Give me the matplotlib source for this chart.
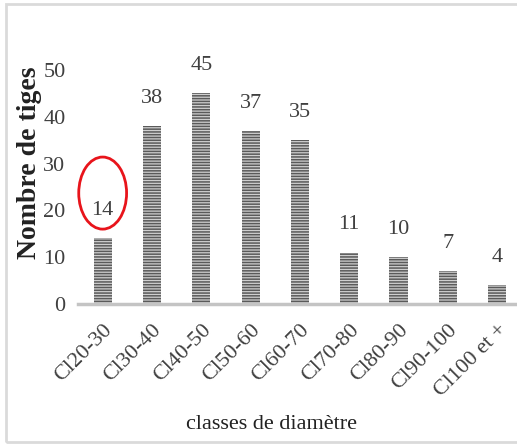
import matplotlib.pyplot as plt
from matplotlib.patches import Ellipse, Rectangle

classes = ['Cl20-30', 'Cl30-40', 'Cl40-50', 'Cl50-60', 'Cl60-70',
           'Cl70-80', 'Cl80-90', 'Cl90-100', 'Cl100 et +']
tiges = [14, 38, 45, 37, 35, 11, 10, 7, 4]
yticks = [0, 10, 20, 30, 40, 50]

plt.rcParams['font.family'] = ['Liberation Serif', 'DejaVu Serif']
plt.rcParams['hatch.linewidth'] = 1.1

fig = plt.figure(figsize=(5.17, 4.44), dpi=100)
ax = fig.add_axes([78 / 517, 1 - 304 / 444, (517 - 78) / 517, 55 * 4.68 / 444])

x = range(len(classes))
ax.bar(x, tiges, width=0.37, color='#cfcfcf', edgecolor='#5a5a5a',
       hatch='------', linewidth=0)

for i, v in enumerate(tiges):
    ax.annotate(str(v), (i, v), xytext=(0, 13), textcoords='offset points',
                ha='center', va='bottom', fontsize=16, color='#404040')

ax.set_xlim(-0.5, 8.4)
ax.set_ylim(0, 55)
ax.set_yticks(yticks)
ax.set_xticks(list(x))
ax.set_xticklabels(classes, rotation=45, ha='right', rotation_mode='anchor')
ax.tick_params(length=0, labelsize=16, labelcolor='#404040')
ax.tick_params(axis='x', pad=12)
ax.tick_params(axis='y', pad=9)

for s in ['top', 'right', 'left']:
    ax.spines[s].set_visible(False)
ax.spines['bottom'].set_color('#c4c4c4')
ax.spines['bottom'].set_linewidth(2.5)

fig.text(30 / 517, 1 - 163 / 444, 'Nombre de tiges', rotation=90, ha='center',
         va='center', fontsize=20, fontweight='bold', color='#222222')
fig.text(272 / 517, 1 - 424 / 444, 'classes de diamètre', ha='center',
         va='center', fontsize=16, color='#222222')

# red circle around the first value
ax.add_patch(Ellipse((0, 23.7), 0.97, 15.4, fill=False, edgecolor='#e8141b',
                     linewidth=2, clip_on=False))

# light frame around the chart
fig.patches.append(Rectangle((6 / 517, 2 / 444), 1.2, 438 / 444, fill=False,
                             edgecolor='#dadada', linewidth=2,
                             transform=fig.transFigure))

fig.savefig('out.png', dpi=100)
